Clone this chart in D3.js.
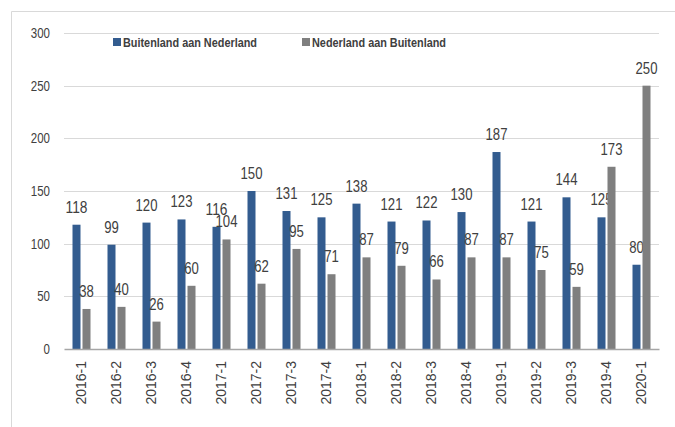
<!DOCTYPE html>
<html>
<head>
<meta charset="utf-8">
<script src="https://cdnjs.cloudflare.com/ajax/libs/d3/7.8.5/d3.min.js"></script>
<style>
  body { margin: 0; background: #fff; }
  svg { display: block; }
</style>
</head>
<body>
<div id="chart"></div>
<script>
var categories = ['2016-1', '2016-2', '2016-3', '2016-4', '2017-1', '2017-2', '2017-3', '2017-4',
  '2018-1', '2018-2', '2018-3', '2018-4', '2019-1', '2019-2', '2019-3', '2019-4', '2020-1'];
var buitenland_nl = [118, 99, 120, 123, 116, 150, 131, 125, 138, 121, 122, 130, 187, 121, 144, 125, 80];
var nl_buitenland = [38, 40, 26, 60, 104, 62, 95, 71, 87, 79, 66, 87, 87, 75, 59, 173, 250];
var series_names = ['Buitenland aan Nederland', 'Nederland aan Buitenland'];
var y_ticks = [0, 50, 100, 150, 200, 250, 300];

var chart_width = 675;
var chart_height = 427;
var plot_left = 64, plot_right = 659, plot_top = 33, plot_bottom = 349;
var colors = ['#335c8f', '#7f7f7f'];
var num_font = '"Liberation Sans", Arial, sans-serif';

var svg = d3.select('#chart')
      .append('svg')
      .attr('width', chart_width)
      .attr('height', chart_height);

// outer frame (only top and left edges visible)
svg.append('path')
   .attr('d', 'M11.5,' + chart_height + 'V11.5H' + chart_width)
   .attr('fill', 'none')
   .attr('stroke', '#d9d9d9');

//create scales
var x_scale = d3.scaleBand()
        .domain(categories)
        .range([plot_left, plot_right]);

var y_scale = d3.scaleLinear()
        .domain([0, 300])
        .range([plot_bottom, plot_top]);

var bar_w = 8, gap = 2;

// gridlines
svg.append('g')
   .selectAll('line')
   .data(y_ticks.filter(function(d) { return d > 0; }))
   .enter()
   .append('line')
   .attr('x1', plot_left)
   .attr('x2', plot_right)
   .attr('y1', function(d) { return Math.round(y_scale(d)) + 0.5; })
   .attr('y2', function(d) { return Math.round(y_scale(d)) + 0.5; })
   .attr('stroke', '#d9d9d9');

// y axis labels (narrowed to look like Calibri)
var y_axis = d3.axisLeft(y_scale)
            .tickValues(y_ticks)
            .tickSize(0)
            .tickPadding(14);

svg.append('g')
   .attr('class', 'y-axis')
   .attr('transform', 'translate(' + plot_left + ', 0)')
   .call(y_axis)
   .call(function(g) { g.select('.domain').remove(); })
   .selectAll('text')
   .attr('font-family', num_font)
   .attr('font-size', 14.5)
   .attr('fill', '#404040')
   .attr('textLength', function(d) { return String(d).length * 6.4; })
   .attr('lengthAdjust', 'spacingAndGlyphs');

// bars
var series = [buitenland_nl, nl_buitenland];
series.forEach(function(vals, si) {
  var offset = si === 0 ? -(bar_w + gap / 2) : gap / 2;
  var g = svg.append('g');
  g.selectAll('rect')
   .data(vals)
   .enter()
   .append('rect')
   .attr('x', function(d, i) { return x_scale(categories[i]) + x_scale.bandwidth() / 2 + offset; })
   .attr('y', function(d) { return y_scale(d); })
   .attr('width', bar_w)
   .attr('height', function(d) { return y_scale(0) - y_scale(d); })
   .attr('fill', colors[si]);

  g.selectAll('text')
   .data(vals)
   .enter()
   .append('text')
   .attr('x', function(d, i) { return x_scale(categories[i]) + x_scale.bandwidth() / 2 + offset + bar_w / 2; })
   .attr('y', function(d) { return y_scale(d) - 12; })
   .attr('text-anchor', 'middle')
   .attr('font-family', num_font)
   .attr('font-size', 16)
   .attr('fill', '#404040')
   .attr('textLength', function(d) { return String(d).length * 7.3; })
   .attr('lengthAdjust', 'spacingAndGlyphs')
   .text(function(d) { return d; });
});

// x axis
var x_axis = d3.axisBottom(x_scale).tickSize(0).tickPadding(0);

var xg = svg.append('g')
   .attr('class', 'x-axis')
   .attr('transform', 'translate(0, ' + plot_bottom + ')')
   .call(x_axis);

xg.select('.domain')
  .attr('stroke', '#a6a6a6')
  .attr('stroke-width', 1.5);

xg.selectAll('text')
  .attr('transform', 'rotate(-90)')
  .attr('text-anchor', 'end')
  .attr('x', -12)
  .attr('y', 0)
  .attr('dy', '0.35em')
  .attr('font-family', num_font)
  .attr('font-size', 14)
  .attr('fill', '#404040');

// legend
var legend_x = [113, 302];
var legend = svg.append('g');
series_names.forEach(function(name, i) {
  legend.append('rect')
    .attr('x', legend_x[i])
    .attr('y', 38)
    .attr('width', 8)
    .attr('height', 8)
    .attr('fill', colors[i]);
  legend.append('text')
    .attr('x', legend_x[i] + 10)
    .attr('y', 46.5)
    .attr('font-family', num_font)
    .attr('font-size', 12.5)
    .attr('font-weight', 'bold')
    .attr('fill', '#404040')
    .attr('textLength', 134)
    .attr('lengthAdjust', 'spacingAndGlyphs')
    .text(name);
});
</script>
</body>
</html>
